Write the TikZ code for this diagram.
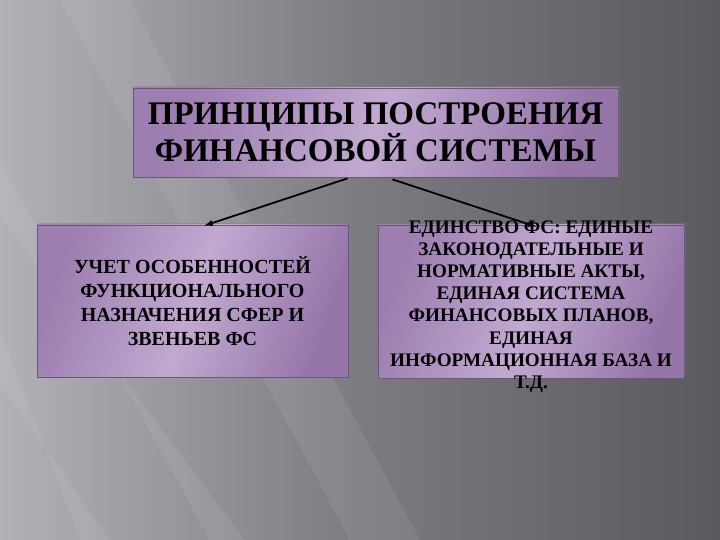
\documentclass[tikz,border=0pt]{standalone}
\usepackage{fontspec}
\setmainfont{Liberation Serif}
\usetikzlibrary{calc,shadows}

\definecolor{bgLight}{HTML}{B2B1B7}
\definecolor{bgMid}{HTML}{7C7B82}
\definecolor{bgDark}{HTML}{5A5960}
\definecolor{boxLight}{HTML}{C1A9D1}
\definecolor{boxDark}{HTML}{9170A5}
\definecolor{boxEdge}{HTML}{6B5876}

\tikzset{
  purplebox/.style={draw=boxEdge, line width=0.8pt, left color=boxDark!75!boxLight,
    right color=boxDark!90!boxLight, middle color=boxLight, shading angle=70,
    drop shadow={opacity=0.45, shadow xshift=2pt, shadow yshift=2pt},
    align=center, inner sep=0pt},
  linkarrow/.style={line width=1.8pt, -latex, black},
  streak/.style={white, opacity=0.07}
}

\begin{document}
\begin{tikzpicture}[x=1pt, y=-1pt]
    % Background of the slide
    \useasboundingbox (0,0) rectangle (720,540);
    \shade[left color=bgLight, right color=bgDark, middle color=bgMid]
        (0,0) rectangle (720,540);
    \fill[streak] (60,0) -- (130,0) -- (420,540) -- (350,540) -- cycle;
    \fill[streak] (0,330) -- (0,385) -- (110,540) -- (80,540) -- cycle;
    \fill[streak] (0,160) -- (0,215) -- (245,540) -- (210,540) -- cycle;

    % Heading box
    \node[purplebox, minimum width=485, minimum height=89,
          font=\fontsize{33}{37}\selectfont\bfseries] (principles) at (375.5,132.5)
        {ПРИНЦИПЫ ПОСТРОЕНИЯ\\ ФИНАНСОВОЙ СИСТЕМЫ};

    % Two lower boxes
    \node[purplebox, minimum width=311, minimum height=152,
          font=\fontsize{20}{24}\selectfont\bfseries] (accounting) at (192.5,301)
        {УЧЕТ ОСОБЕННОСТЕЙ\\ ФУНКЦИОНАЛЬНОГО\\ НАЗНАЧЕНИЯ СФЕР И\\ ЗВЕНЬЕВ ФС};
    \node[purplebox, minimum width=306, minimum height=153] (unity) at (531,301.5) {};
    % this text runs over the box edges, so it sits in its own node
    \node[align=center, inner sep=0pt, font=\fontsize{19.2}{22.2}\selectfont\bfseries]
        (unitytext) at ($(unity.center)+(0,5)$)
        {ЕДИНСТВО ФС: ЕДИНЫЕ\\ ЗАКОНОДАТЕЛЬНЫЕ И\\ НОРМАТИВНЫЕ АКТЫ,\\ ЕДИНАЯ СИСТЕМА\\ ФИНАНСОВЫХ ПЛАНОВ,\\ ЕДИНАЯ\\ ИНФОРМАЦИОННАЯ БАЗА И\\ Т.Д.};

    % Arrows down from the heading
    \draw[linkarrow] ($(principles.south)+(-28,1)$) -- ($(accounting.north)+(12,1)$);
    \draw[linkarrow] ($(principles.south)+(17,2)$) -- ($(unity.north)+(5,2)$);
\end{tikzpicture}
\end{document}
